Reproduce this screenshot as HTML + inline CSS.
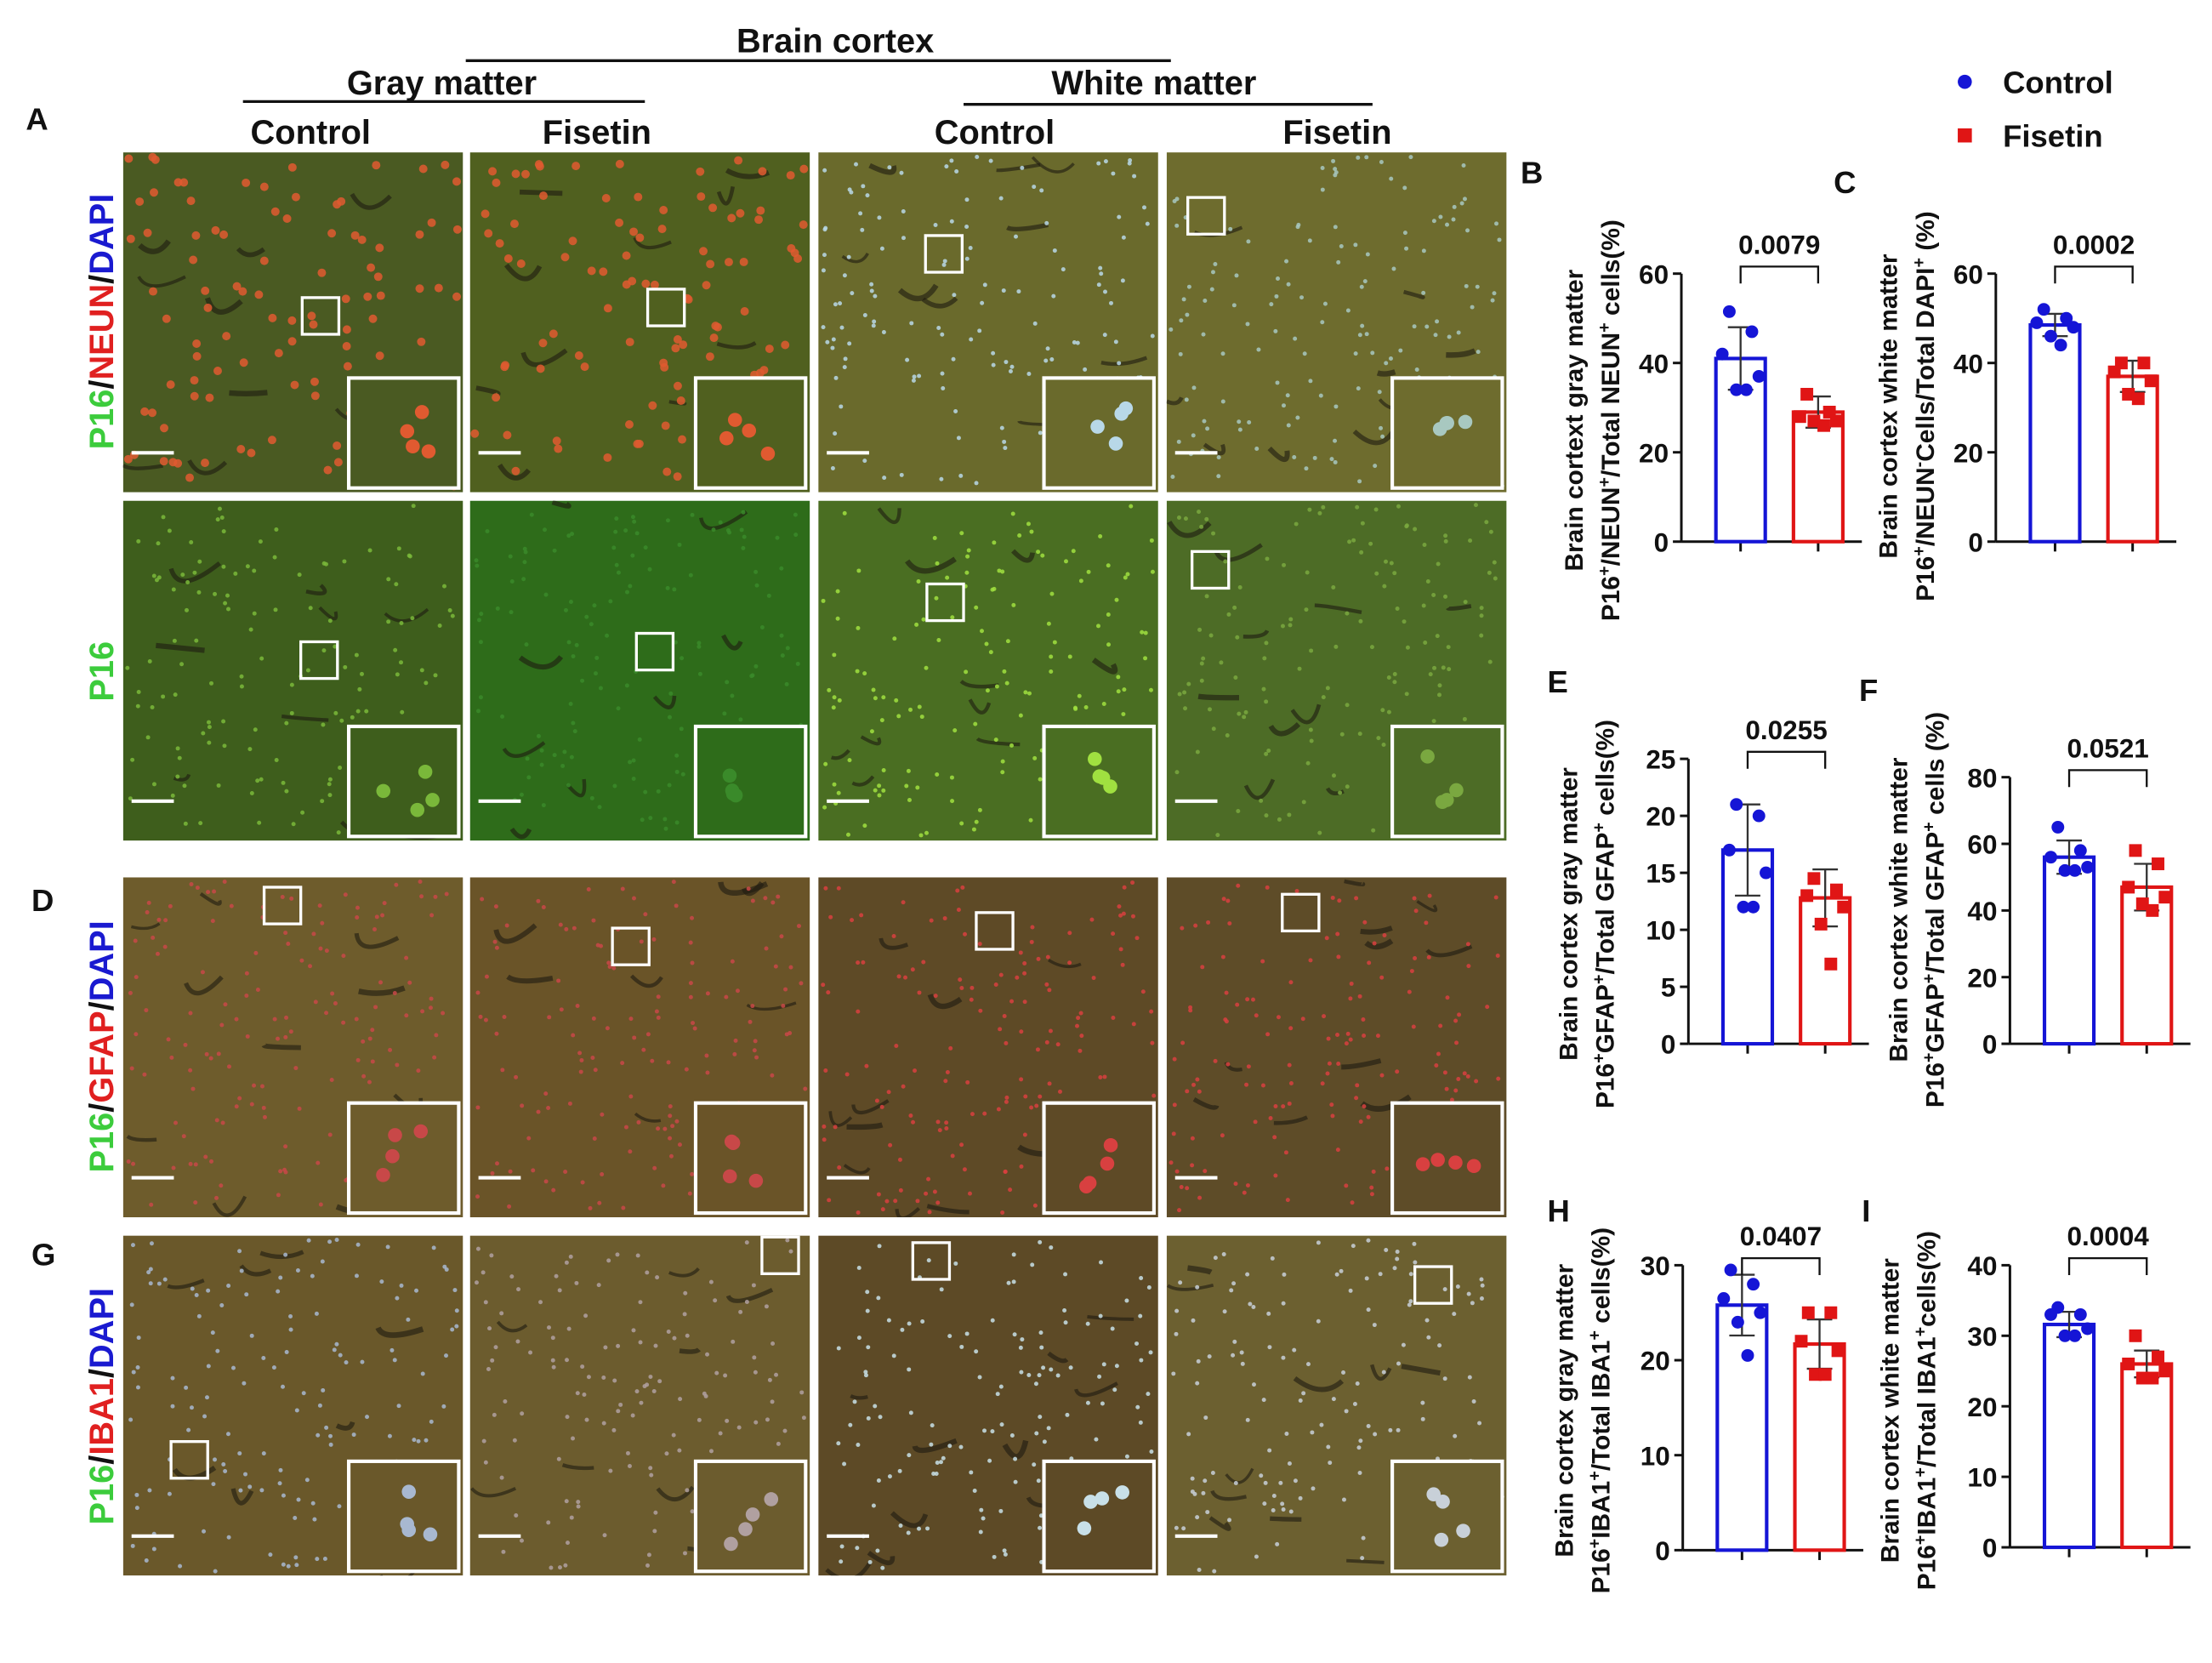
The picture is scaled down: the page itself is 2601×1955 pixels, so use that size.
<!DOCTYPE html>
<html><head><meta charset="utf-8"><style>
html,body{margin:0;padding:0;background:#fff}
svg{display:block}
text{font-family:"Liberation Sans",Arial,sans-serif;font-weight:bold}
</style></head><body>
<svg id="fig" width="2601" height="1955" viewBox="0 0 1568 1179" xmlns="http://www.w3.org/2000/svg">
<defs id="defs"></defs>
<rect width="1568" height="1179" fill="#fff"/>
<g id="headers" font-size="24" text-anchor="middle" fill="#111">
<text x="592" y="37">Brain cortex</text>
<line x1="330" y1="43" x2="830" y2="43" stroke="#111" stroke-width="2"/>
<text x="313" y="67">Gray matter</text>
<line x1="172" y1="72" x2="457" y2="72" stroke="#111" stroke-width="2"/>
<text x="818" y="67">White matter</text>
<line x1="683" y1="74" x2="973" y2="74" stroke="#111" stroke-width="2"/>
<text x="220" y="102">Control</text>
<text x="423" y="102">Fisetin</text>
<text x="705" y="102">Control</text>
<text x="948" y="102">Fisetin</text>
</g>
<g font-size="22" fill="#111">
<text x="18" y="92">A</text><text x="22" y="646">D</text><text x="22" y="897">G</text>
<text x="1078" y="130">B</text><text x="1300" y="137">C</text>
<text x="1097" y="491">E</text><text x="1318" y="497">F</text>
<text x="1097" y="866">H</text><text x="1320" y="866">I</text>
</g>
<g font-size="22" fill="#111">
<circle cx="1393" cy="58" r="5" fill="#1515d6"/>
<text x="1420" y="66">Control</text>
<rect x="1388" y="91" width="10" height="10" fill="#e01515"/>
<text x="1420" y="104">Fisetin</text>
</g>
<g font-size="24">
<text transform="translate(80,228) rotate(-90)" text-anchor="middle"><tspan fill="#3ccc3c">P16</tspan><tspan fill="#111">/</tspan><tspan fill="#e02020">NEUN</tspan><tspan fill="#111">/</tspan><tspan fill="#1a1ad0">DAPI</tspan></text>
<text transform="translate(80,476) rotate(-90)" text-anchor="middle" fill="#3ccc3c">P16</text>
<text transform="translate(80,742) rotate(-90)" text-anchor="middle"><tspan fill="#3ccc3c">P16</tspan><tspan fill="#111">/</tspan><tspan fill="#e02020">GFAP</tspan><tspan fill="#111">/</tspan><tspan fill="#1a1ad0">DAPI</tspan></text>
<text transform="translate(80,997) rotate(-90)" text-anchor="middle"><tspan fill="#3ccc3c">P16</tspan><tspan fill="#111">/</tspan><tspan fill="#e02020">IBA1</tspan><tspan fill="#111">/</tspan><tspan fill="#1a1ad0">DAPI</tspan></text>
</g>
<g id="micro"></g>
<g id="charts"></g>
</svg>
<script>
// Chart data
const groups = ["Control", "Fisetin"];
const bCtrl = [51.5, 47, 42, 37, 34, 34];
const bFis = [33, 29, 28, 27, 27, 26];
const bMean = [41, 29];
const bSD = [7, 3.5];
const cCtrl = [52, 50, 49, 48, 46, 44];
const cFis = [40, 40, 38, 36, 33, 32];
const cMean = [48.5, 37];
const cSD = [2.5, 3.5];
const eCtrl = [21, 20, 17, 15, 12, 12];
const eFis = [14.5, 13.5, 13, 12, 10.5, 7];
const eMean = [17, 12.8];
const eSD = [4, 2.5];
const fCtrl = [65, 58, 56, 53, 52, 52];
const fFis = [58, 54, 47, 44, 42, 40];
const fMean = [56, 47];
const fSD = [5, 7];
const hCtrl = [29.5, 28, 26.5, 25, 24, 20.5];
const hFis = [25, 25, 22, 21, 18.5, 18.5];
const hMean = [25.8, 21.7];
const hSD = [3.2, 2.6];
const iCtrl = [34, 33, 33, 31, 30, 30];
const iFis = [30, 27, 26, 25, 24, 24];
const iMean = [31.6, 26];
const iSD = [1.8, 1.9];
const bTicks = [0, 20, 40, 60];
const cTicks = [0, 20, 40, 60];
const eTicks = [0, 5, 10, 15, 20, 25];
const fTicks = [0, 20, 40, 60, 80];
const hTicks = [0, 10, 20, 30];
const iTicks = [0, 10, 20, 30, 40];
const pValues = ["0.0079", "0.0002", "0.0255", "0.0521", "0.0407", "0.0004"];

const NS = "http://www.w3.org/2000/svg";
function mk(tag, attrs, parent) {
  const e = document.createElementNS(NS, tag);
  for (const k in attrs) e.setAttribute(k, attrs[k]);
  parent.appendChild(e);
  return e;
}
const charts = document.getElementById("charts");
const COLORS = ["#1515d6", "#e01515"];

function chart(name, cfg) {
  const g = mk("g", {}, charts);
  
  
  const ymax = cfg.ticks[cfg.ticks.length - 1];
  const y = v => cfg.y0 - (v / ymax) * (cfg.y0 - cfg.ytop);
  const xs = [cfg.ax + 42, cfg.ax + 97];
  const bw = 35;
  const ya = mk("line", {x1: cfg.ax, y1: y(ymax), x2: cfg.ax, y2: cfg.y0, stroke: "#111", "stroke-width": 1.8}, g);
  
  
  const xa = mk("line", {x1: cfg.ax, y1: cfg.y0, x2: cfg.ax + 128, y2: cfg.y0, stroke: "#111", "stroke-width": 1.8}, g);
  
  
  cfg.ticks.forEach(t => {
    mk("line", {x1: cfg.ax - 6, y1: y(t), x2: cfg.ax, y2: y(t), stroke: "#111", "stroke-width": 1.8}, g);
    const tx = mk("text", {x: cfg.ax - 9, y: y(t) + 7, "font-size": 19, "text-anchor": "end", fill: "#111"}, g);
    tx.textContent = t;
    
    
  });
  xs.forEach(x => mk("line", {x1: x, y1: cfg.y0, x2: x, y2: cfg.y0 + 7, stroke: "#111", "stroke-width": 1.8}, g));
  const sets = [cfg.ctrl, cfg.fis];
  for (let i = 0; i < 2; i++) {
    const bar = mk("rect", {x: xs[i] - bw / 2, y: y(cfg.mean[i]), width: bw, height: cfg.y0 - y(cfg.mean[i]), fill: "#fff", stroke: COLORS[i], "stroke-width": 2.5}, g);
    
    
    const hi = y(cfg.mean[i] + cfg.sd[i]), lo = y(cfg.mean[i] - cfg.sd[i]);
    const eb = mk("path", {d: `M${xs[i]} ${hi}V${lo}M${xs[i]-9} ${hi}H${xs[i]+9}M${xs[i]-9} ${lo}H${xs[i]+9}`, stroke: "#333", "stroke-width": 1.4, fill: "none"}, g);
    
    
    const offs = [-8, 8, -13, 13, -3, 4];
    sets[i].forEach((v, k) => {
      const px = xs[i] + offs[k % offs.length];
      let p;
      if (i === 0) p = mk("circle", {cx: px, cy: y(v), r: 4.5, fill: COLORS[0]}, g);
      else p = mk("rect", {x: px - 4.5, y: y(v) - 4.5, width: 9, height: 9, fill: COLORS[1]}, g);
      
      
    });
  }
  const by = y(ymax) - 5;
  mk("path", {d: `M${xs[0]} ${by+12}V${by}H${xs[1]}V${by+12}`, stroke: "#111", "stroke-width": 1.4, fill: "none"}, g);
  const pv = mk("text", {x: (xs[0] + xs[1]) / 2, y: by - 9, "font-size": 19, "text-anchor": "middle", fill: "#111"}, g);
  pv.textContent = cfg.p;
  
  
  cfg.title.forEach((ln, k) => {
    const t = mk("text", {transform: `translate(${cfg.tx + k * 26},${cfg.tc}) rotate(-90)`, "font-size": 18, "text-anchor": "middle", fill: "#111"}, g);
    t.innerHTML = ln;
    
    
  });
}
const sup = s => `<tspan baseline-shift="super" font-size="12">${s}</tspan>`;
chart("chart-b", {ax: 1192, y0: 384, ytop: 194, ticks: bTicks, ctrl: bCtrl, fis: bFis, mean: bMean, sd: bSD, p: pValues[0], tx: 1122, tc: 298,
  title: ["Brain cortext gray matter", `P16${sup("+")}/NEUN${sup("+")}/Total NEUN${sup("+")} cells(%)`]});
chart("chart-c", {ax: 1415, y0: 384, ytop: 194, ticks: cTicks, ctrl: cCtrl, fis: cFis, mean: cMean, sd: cSD, p: pValues[1], tx: 1345, tc: 288,
  title: ["Brain cortex white matter", `P16${sup("+")}/NEUN${sup("-")}Cells/Total DAPI${sup("+")} (%)`]});
chart("chart-e", {ax: 1197, y0: 740, ytop: 538, ticks: eTicks, ctrl: eCtrl, fis: eFis, mean: eMean, sd: eSD, p: pValues[2], tx: 1118, tc: 648,
  title: ["Brain cortex gray matter", `P16${sup("+")}GFAP${sup("+")}/Total GFAP${sup("+")} cells(%)`]});
chart("chart-f", {ax: 1425, y0: 740, ytop: 551, ticks: fTicks, ctrl: fCtrl, fis: fFis, mean: fMean, sd: fSD, p: pValues[3], tx: 1352, tc: 645,
  title: ["Brain cortex white matter", `P16${sup("+")}GFAP${sup("+")}/Total GFAP${sup("+")} cells (%)`]});
chart("chart-h", {ax: 1193, y0: 1099, ytop: 897, ticks: hTicks, ctrl: hCtrl, fis: hFis, mean: hMean, sd: hSD, p: pValues[4], tx: 1115, tc: 1000,
  title: ["Brain cortex gray matter", `P16${sup("+")}IBA1${sup("+")}/Total IBA1${sup("+")} cells(%)`]});
chart("chart-i", {ax: 1425, y0: 1097, ytop: 897, ticks: iTicks, ctrl: iCtrl, fis: iFis, mean: iMean, sd: iSD, p: pValues[5], tx: 1346, tc: 1000,
  title: ["Brain cortex white matter", `P16${sup("+")}IBA1${sup("+")}/Total IBA1${sup("+")}cells(%)`]});

// Micrographs (decorative texture)
const micro = document.getElementById("micro");
const defs = document.getElementById("defs");
const colX = [87, 333, 580, 827];
const rowY = [108, 355, 622, 876];
const bgs = [
  ["#4a5a22", "#50601f", "#6a6a2c", "#6e6c2e"],
  ["#3e5e1c", "#2e6c1a", "#4a6e22", "#4d6c26"],
  ["#6e5c2c", "#6a5428", "#5e4a26", "#5e4c28"],
  ["#6a582a", "#6c5c2e", "#5d4a26", "#6c6030"]
];
const dotCols = [
  ["#e05a30", "#e05a30", "#b8d8e8", "#a8c8c0"],
  ["#7ab83a", "#3a8a2a", "#a0e040", "#7aa840"],
  ["#c84848", "#c84848", "#d84040", "#d84040"],
  ["#a8b8d0", "#b0a0a0", "#c8e0e8", "#c8d0d8"]
];
const boxes = [
  [[214,211],[459,205],[656,167],[842,140]],
  [[213,455],[451,449],[657,414],[845,391]],
  [[187,629],[434,658],[692,647],[909,634]],
  [[121,1022],[540,877],[647,881],[1003,898]]
];
let seed = 7;
const rnd = () => { seed = (seed * 16807) % 2147483647; return seed / 2147483647; };
for (let r = 0; r < 4; r++) for (let c = 0; c < 4; c++) {
  const x = colX[c], y = rowY[r], w = 241, h = 241;
  const cid = "clip" + r + c;
  const cp = mk("clipPath", {id: cid}, defs);
  mk("rect", {x, y, width: w, height: h}, cp);
  const g = mk("g", {"clip-path": `url(#${cid})`}, micro);
  
  
  mk("rect", {x, y, width: w, height: h, fill: bgs[r][c]}, g);
  for (let k = 0; k < 10; k++) {
    const sx = x + rnd() * (w - 40), sy = y + rnd() * h;
    mk("path", {d: `M${sx} ${sy}q${rnd()*20} ${rnd()*20} ${10+rnd()*25} ${rnd()*10-5}`, stroke: "#1e1a10", "stroke-width": 2 + rnd() * 2, fill: "none", opacity: 0.6}, g);
  }
  const n = r === 0 && c < 2 ? 110 : 150;
  for (let k = 0; k < n; k++) {
    const px = x + 3 + rnd() * (w - 6), py = y + 3 + rnd() * (h - 6);
    mk("circle", {cx: px, cy: py, r: (r === 0 && c < 2) ? 3 : 1.5, fill: dotCols[r][c], opacity: 0.85}, g);
  }
  const b = boxes[r][c];
  mk("rect", {x: b[0], y: b[1], width: 26, height: 26, fill: "none", stroke: "#fff", "stroke-width": 2}, g);
  mk("rect", {x: x + 160, y: y + 160, width: 78, height: 78, fill: bgs[r][c], stroke: "#fff", "stroke-width": 2.5}, g);
  for (let k = 0; k < 4; k++) mk("circle", {cx: x + 180 + rnd() * 40, cy: y + 180 + rnd() * 40, r: 5, fill: dotCols[r][c]}, g);
  mk("line", {x1: x + 6, y1: y + h - 28, x2: x + 36, y2: y + h - 28, stroke: "#fff", "stroke-width": 2.5}, g);
}
</script>
</body></html>
